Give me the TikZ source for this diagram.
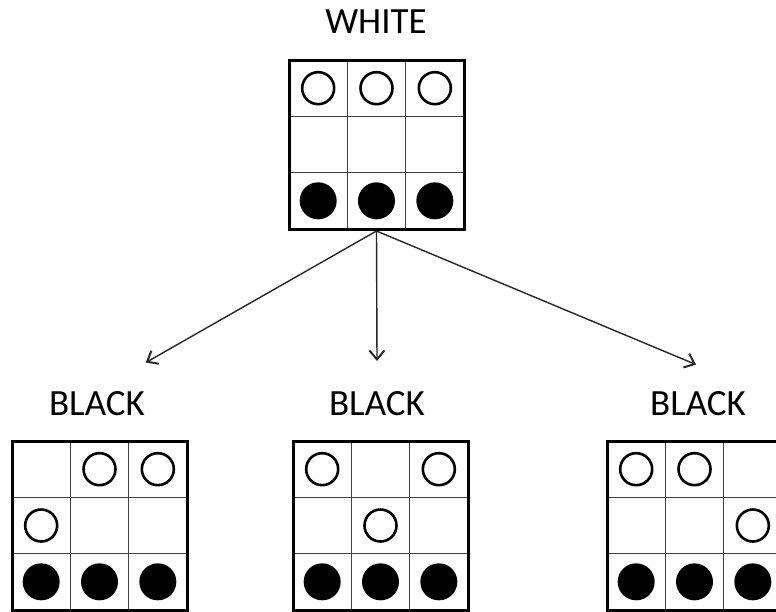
\documentclass[tikz,border=0pt]{standalone}
\usepackage{fontspec}
\setmainfont{Carlito}
\usetikzlibrary{calc,arrows.meta}
\tikzset{
  boardbox/.style={draw=black, line width=3pt, minimum width=175pt, minimum height=169pt, inner sep=0pt, outer sep=0pt},
  gridline/.style={draw=black!75, line width=1.5pt},
  opencircle/.style={draw=black, line width=2.6pt, fill=white},
  fullcircle/.style={fill=black},
  lbl/.style={font=\fontsize{37}{40}\selectfont, text=black, inner sep=0pt},
  move/.style={draw=black!85, line width=1.4pt, -{Straight Barb[length=9pt,width=15pt,line width=2pt]}, shorten >=1pt}
}
% #1 name, #2 left x, #3 top y, #4 open cells, #5 filled cells (c/r)
\newcommand\drawboard[5]{%
  \node[boardbox] (#1) at (#2+87.5, #3+84.5) {};
  \foreach \i in {1,2} {
    \draw[gridline] ($(#1.north west)+(\i*58.33,0)$) -- ++(0,169);
    \draw[gridline] ($(#1.north west)+(0,\i*56.33)$) -- ++(175,0);
  }
  \draw[line width=3pt] (#1.north west) rectangle (#1.south east);
  \foreach \c/\r in {#4} {
    \draw[opencircle] ($(#1.north west)+(\c*58.33+29.17,\r*56.33+28.17)$) circle (16);
  }
  \foreach \c/\r in {#5} {
    \fill[fullcircle] ($(#1.north west)+(\c*58.33+29.17,\r*56.33+28.17)$) circle (18.5);
  }
}
\begin{document}
\begin{tikzpicture}[x=1pt,y=-1pt]
  \useasboundingbox (0,0) rectangle (776,611);
  \fill[white] (0,0) rectangle (776,611);
  \node[lbl] (lwhite) at (376,22) {WHITE};
  \drawboard{top}{289}{60}{0/0,1/0,2/0}{0/2,1/2,2/2}
  \node[lbl] (lb1) at (97,404) {BLACK};
  \node[lbl] (lb2) at (377,404) {BLACK};
  \node[lbl] (lb3) at (698,404) {BLACK};
  \drawboard{b1}{12}{441}{1/0,2/0,0/1}{0/2,1/2,2/2}
  \drawboard{b2}{293}{441}{0/0,2/0,1/1}{0/2,1/2,2/2}
  \drawboard{b3}{607}{441}{0/0,1/0,2/1}{0/2,1/2,2/2}
  \coordinate (src) at ($(top.south)+(0,2)$);
  \coordinate (t1) at (145,363);
  \coordinate (t2) at (377,362);
  \coordinate (t3) at (697,365);
  \draw[move] (src) -- (t1);
  \draw[move] (src) -- (t2);
  \draw[move] (src) -- (t3);
\end{tikzpicture}
\end{document}
